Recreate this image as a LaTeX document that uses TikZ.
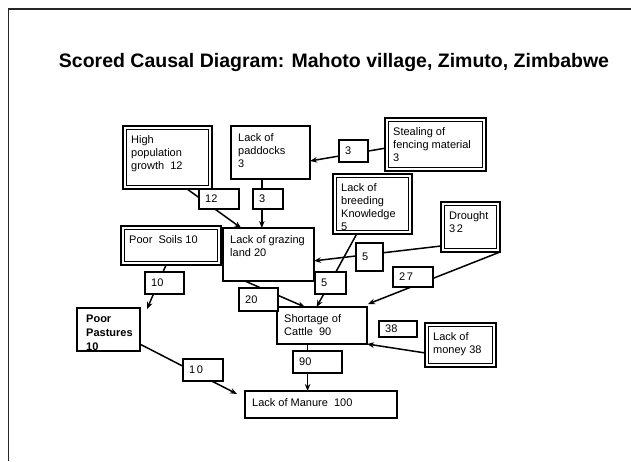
\documentclass[tikz,border=0pt]{standalone}
\usepackage{fontspec}
\setmainfont{Liberation Sans}
\usetikzlibrary{calc,arrows.meta,backgrounds}

\newcommand\boxfont{\fontsize{11}{13}\selectfont}

% plain frame: name, x, y, width, height, text
\newcommand\cframe[6]{%
  \node[frame, minimum width=#4pt, minimum height=#5pt] (#1) at (#2,#3) {};
  \node[txt] (#1-text) at (#2+7,#3+7) {#6};}

% thick-thin double frame: name, x, y, width, height, text
\newcommand\cdframe[6]{%
  \node[frame, line width=2.6pt, minimum width=#4pt, minimum height=#5pt] (#1) at (#2,#3) {};
  \draw[line width=0.8pt] (#2+3.3,#3+3.3) rectangle (#2+#4-3.3,#3+#5-3.3);
  \node[txt] (#1-text) at (#2+8,#3+9) {#6};}

% score tag: name, x, y, width, height, text
\newcommand\score[6]{%
  \node[tag, minimum width=#4pt, minimum height=#5pt] (#1) at (#2,#3) {};
  \node[anchor=west, inner sep=0pt, font=\boxfont] (#1-text) at ($(#1.west)+(6,0)$) {#6};}

\begin{document}
\begin{tikzpicture}[x=1pt,y=-1pt,
  frame/.style={draw, line width=1.8pt, fill=white, inner sep=0pt, outer sep=0pt, anchor=north west},
  txt/.style={anchor=north west, inner sep=0pt, align=left, font=\boxfont},
  tag/.style={draw, line width=1.6pt, fill=white, inner sep=0pt, outer sep=0pt, anchor=north west},
  link/.style={line width=1.5pt, -{Stealth[length=7pt,width=5.5pt]}},
  plainlink/.style={line width=1.5pt}]
\useasboundingbox (0,0) rectangle (631,461);

% page frame
\draw[line width=1.2pt, black!85] (631,9) -- (8.5,9) -- (8.5,461);

\node[anchor=base, inner sep=0pt, font=\fontsize{19.5}{23}\selectfont\bfseries] (title) at (334,67)
  {Scored Causal Diagram: Mahoto village, Zimuto, Zimbabwe};

% causes and effects
\cdframe{hpg}{123}{126}{89}{63}{High\\population\\growth\ \ 12}
\cframe{pad}{231}{126}{79}{53}{Lack of\\paddocks\\3}
\cdframe{steal}{385}{118}{101}{53}{Stealing of\\fencing material\\3}
\cdframe{breed}{333}{174}{79}{60}{Lack of\\breeding\\Knowledge\\5}
\cdframe{drought}{441}{202}{59}{50}{Drought\\3\kern1.5pt 2}
\cdframe{soils}{121}{226}{100}{39}{Poor\ \ Soils 10}
\cframe{graze}{223}{228}{91}{53}{Lack of grazing\\land 20}
\node[frame, minimum width=63pt, minimum height=43pt] (past) at (77,308) {};
\begin{scope}
  \clip (78,309) rectangle (139,350);
  \node[txt, font=\fontsize{11}{14}\selectfont\bfseries] (past-text) at (86,315) {Poor\\Pastures\\10};
\end{scope}
\cframe{short}{277}{307}{90}{37}{Shortage of\\Cattle\ \ 90}
\cdframe{money}{425}{323}{71}{44}{Lack of\\money 38}
\cframe{manure}{245}{391}{152}{27}{Lack of Manure\ \ 100}

% scores on the links
\score{s12}{199}{189}{40}{20}{12}
\score{s3a}{253}{189}{30}{20}{3}
\score{s3b}{339}{140}{29}{22}{3}
\score{s10a}{145}{272}{39}{22}{10}
\score{s5a}{356}{243}{27}{28}{5}
\score{s5b}{315}{272}{31}{22}{5}
\score{s27}{393}{267}{40}{20}{2\kern1.5pt 7}
\score{s20}{239}{288}{39}{23}{20}
\score{s38}{379}{321}{38}{16}{38}
\score{s90}{293}{351}{49}{22}{90}
\score{s10b}{183}{359}{40}{22}{1\kern1.5pt 0}

% links, drawn beneath the boxes
\begin{pgfonlayer}{background}
  \draw[link] ($(hpg.south west)!0.72!(hpg.south east)$) -- ($(graze.north west)!0.2!(graze.north east)$);
  \coordinate (padout) at ($(pad.south west)!0.39!(pad.south east)$);
  \draw[link] (padout) -- (padout |- graze.north);
  \draw[link] ($(steal.north west)!0.57!(steal.south west)$) -- ($(pad.north east)!0.66!(pad.south east)$);
  \draw[link] ($(drought.north west)!0.88!(drought.south west)$) -- ($(graze.north east)!0.62!(graze.south east)$);
  \draw[link] ($(breed.south west)!0.3!(breed.south east)$) -- ($(short.north west)!0.44!(short.north east)$);
  \draw[link] (drought.south east) -- ($(short.north east)+(1,-3)$);
  \draw[link] ($(graze.south west)!0.24!(graze.south east)$) -- ($(short.north west)!0.31!(short.north east)$);
  \draw[link] ($(money.north west)!0.68!(money.south west)$) -- (short.south east);
  \draw[link] ($(soils.south west)!0.45!(soils.south east)$) -- ($(past.north east)+(7,1)$);
  \coordinate (shortout) at ($(short.south west)!0.34!(short.south east)$);
  \draw[link] (shortout) -- (shortout |- manure.north);
  \draw[link] ($(past.north east)!0.84!(past.south east)$) -- ($(manure.north west)+(-8,3)$);
\end{pgfonlayer}
\end{tikzpicture}
\end{document}
